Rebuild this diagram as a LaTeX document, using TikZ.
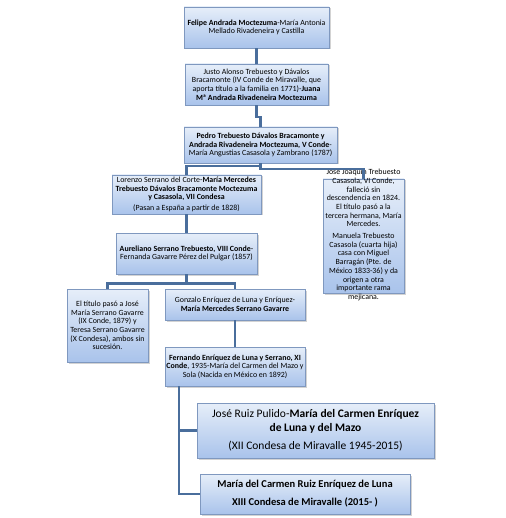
\documentclass[tikz,border=0pt]{standalone}
\usepackage{fontspec}
\setmainfont{Carlito}
\usetikzlibrary{positioning, calc, shadows}
\definecolor{boxtop}{HTML}{E6EEF9}
\definecolor{boxbot}{HTML}{A9C3EB}
\definecolor{boxedge}{HTML}{7F98BF}
\definecolor{linkblue}{HTML}{4A6E9C}
\newcommand{\smalltxt}{\fontsize{7.9}{8.7}\selectfont}
\newcommand{\bigtxt}{\fontsize{11.5}{14}\selectfont}

\begin{document}
\begin{tikzpicture}[x=1pt, y=-1pt,
    famile/.style = {draw=boxedge, top color=boxtop, bottom color=boxbot, inner sep=1pt, align=center,
                     drop shadow={shadow xshift=1.5pt, shadow yshift=-1.5pt, opacity=0.35}},
    link/.style = {draw=linkblue, line width=2.6pt}]
    \useasboundingbox (0,0) rectangle (505,518);
    \node[famile, minimum width=145pt, minimum height=41pt, font=\smalltxt] (felipe) at (256.5,27.5)
        {\textbf{Felipe Andrada Moctezuma}-María Antonia\\Mellado Rivadeneira y Castilla};
    \node[famile, minimum width=143pt, minimum height=41pt, font=\smalltxt] (justo) at (256.5,84.5)
        {Justo Alonso Trebuesto y Dávalos\\Bracamonte (IV Conde de Miravalle, que\\aporta título a la familia en 1771)-\textbf{Juana}\\\textbf{Mª Andrada Rivadeneira Moctezuma}};
    \node[famile, minimum width=153pt, minimum height=36pt, font=\smalltxt] (pedro) at (260.5,145)
        {\textbf{Pedro Trebuesto Dávalos Bracamonte y}\\\textbf{Andrada Rivadeneira Moctezuma, V Conde}-\\María Angustias Casasola y Zambrano (1787)};
    \node[famile, minimum width=149pt, minimum height=39pt, font=\smalltxt] (lorenzo) at (186.5,194.5)
        {Lorenzo Serrano del Corte-\textbf{María Mercedes}\\\textbf{Trebuesto Dávalos Bracamonte Moctezuma}\\\textbf{y Casasola, VII Condesa}\\[2pt](Pasan a España a partir de 1828)};
    \node[famile, minimum width=81pt, minimum height=114pt] (josebox) at (363.5,236) {};
    \node[align=center, inner sep=0pt, font=\smalltxt] (josetext) at (363.5,235)
        {José Joaquín Trebuesto\\Casasola, VI Conde,\\falleció sin\\descendencia en 1824.\\El título pasó a la\\tercera hermana, María\\Mercedes.\\[3pt]Manuela Trebuesto\\Casasola (cuarta hija)\\casa con Miguel\\Barragán (Pte. de\\México 1833-36) y da\\origen a otra\\importante rama\\mejicana.};
    \node[famile, minimum width=141pt, minimum height=41pt, font=\smalltxt] (aureliano) at (186.5,253.5)
        {\textbf{Aureliano Serrano Trebuesto, VIII Conde}-\\Fernanda Gavarre Pérez del Pulgar (1857)};
    \node[famile, minimum width=81pt, minimum height=73pt, font=\smalltxt] (titulo) at (107.5,325.5)
        {El título pasó a José\\María Serrano Gavarre\\(IX Conde, 1879) y\\Teresa Serrano Gavarre\\(X Condesa), ambos sin\\sucesión.};
    \node[famile, minimum width=140pt, minimum height=31pt, font=\smalltxt] (gonzalo) at (235,304.5)
        {Gonzalo Enríquez de Luna y Enríquez-\\\textbf{María Mercedes Serrano Gavarre}};
    \node[famile, minimum width=140pt, minimum height=39pt, font=\smalltxt] (fernando) at (235,366.5)
        {\textbf{Fernando Enríquez de Luna y Serrano, XI}\\\textbf{Conde}, 1935-María del Carmen del Mazo y\\Sola (Nacida en México en 1892)};
    \node[famile, minimum width=237pt, minimum height=55pt, font=\bigtxt] (ruiz) at (315.5,430.5)
        {José Ruiz Pulido-\textbf{María del Carmen Enríquez}\\\textbf{de Luna y del Mazo}\\[4pt](XII Condesa de Miravalle 1945-2015)};
    \node[famile, minimum width=210pt, minimum height=40pt, font=\fontsize{10.5}{14}\selectfont\bfseries] (carmen) at (305,494)
        {María del Carmen Ruiz Enríquez de Luna\\[4pt]XIII Condesa de Miravalle (2015- )};
    % conectores
    \coordinate (trunk) at ($(fernando.south west)+(14,0)$);
    \draw[link] (felipe) -- (justo);
    \draw[link] (justo.south) -- ++(0,12) -| (pedro.north);
    \draw[link] (pedro.south) -- ++(0,3) -| (lorenzo.north);
    \draw[link] (pedro.south) -- ++(0,6) -| (josebox.north);
    \draw[link] (lorenzo) -- (aureliano);
    \draw[link] (aureliano.south) -- ++(0,9) -| (titulo.north);
    \draw[link] (aureliano.south) -- ++(0,9) -| (gonzalo.north);
    \draw[link] (gonzalo) -- (fernando);
    \draw[link] (trunk) |- (ruiz.west);
    \draw[link] (trunk) |- (carmen.west);
\end{tikzpicture}
\end{document}
